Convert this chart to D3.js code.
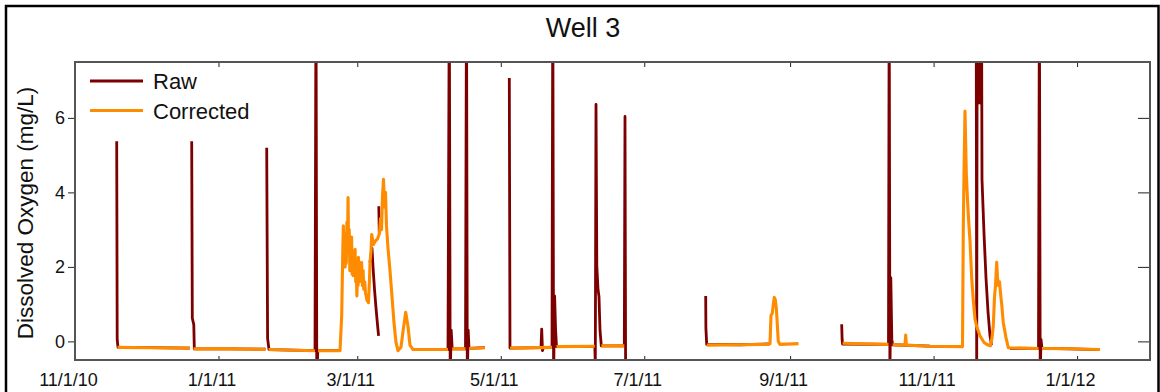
<!DOCTYPE html>
<html>
<head>
<meta charset="utf-8">
<script src="https://cdn.jsdelivr.net/npm/d3@7/dist/d3.min.js"></script>
<style>
  html, body { margin: 0; padding: 0; background: #fff; }
  svg { display: block; font-family: "Liberation Sans", Arial, sans-serif; }
</style>
</head>
<body>
<svg id="chart" width="1160" height="392"></svg>
<script>
// Well 3 dissolved oxygen record: raw logger output vs. corrected series.
// Each entry is [timestamp, mg/L]; a null value marks a gap in the record.
const rawSeries = [
  ["2010-11-18 17:30", 5.37], ["2010-11-18 22:30", 0.05], ["2010-11-19 06:40", -0.16],
  ["2010-12-02 21:00", -0.17], ["2010-12-19 21:20", -0.18], ["2010-12-20 03:00", null],
  ["2010-12-20 14:40", 5.37], ["2010-12-20 20:50", 0.62], ["2010-12-21 12:00", 0.45],
  ["2010-12-21 17:15", -0.2], ["2011-01-05 21:20", -0.2], ["2011-01-20 23:30", -0.21],
  ["2011-01-21 06:00", null],
  ["2011-01-21 12:00", 5.2], ["2011-01-21 21:00", 0.08], ["2011-01-22 11:20", -0.22],
  ["2011-02-11 00:40", -0.25], ["2011-02-11 10:50", 9.5], ["2011-02-11 19:00", -1.0],
  ["2011-02-12 05:15", -0.25], ["2011-02-21 15:50", -0.25], ["2011-03-01 00:00", null],
  ["2011-03-06 09:50", 2.12], ["2011-03-07 06:15", 2.5], ["2011-03-07 16:30", 2.0],
  ["2011-03-08 07:40", 1.4], ["2011-03-08 23:00", 0.9], ["2011-03-09 14:20", 0.45],
  ["2011-03-10 01:30", 0.15], ["2011-03-10 02:30", null],
  ["2011-03-10 03:40", 3.63], ["2011-03-10 08:40", 2.9], ["2011-03-12 00:00", null],
  ["2011-03-24 16:30", -0.22], ["2011-04-08 13:40", -0.22],
  ["2011-04-09 02:50", 9.5], ["2011-04-09 12:00", -1.0], ["2011-04-09 22:20", 0.3],
  ["2011-04-10 08:25", -0.2], ["2011-04-16 00:15", -0.2], ["2011-04-16 10:20", 9.5],
  ["2011-04-16 18:30", -1.0], ["2011-04-17 03:50", 0.3], ["2011-04-17 11:50", -0.19],
  ["2011-04-24 07:10", -0.17], ["2011-04-30 00:00", null],
  ["2011-05-04 15:10", 7.07], ["2011-05-04 22:00", -0.18], ["2011-05-18 02:25", -0.17],
  ["2011-05-18 09:35", 0.33], ["2011-05-18 17:50", -0.25], ["2011-05-19 02:00", -0.17],
  ["2011-05-22 18:45", -0.16], ["2011-05-23 02:50", 9.5], ["2011-05-23 11:00", -1.0],
  ["2011-05-23 21:20", 1.22], ["2011-05-24 07:30", 0.3], ["2011-05-24 16:35", -0.14],
  ["2011-06-09 23:30", -0.13], ["2011-06-10 04:35", -0.6], ["2011-06-10 11:45", 6.36],
  ["2011-06-10 19:55", 2.03], ["2011-06-11 08:10", 1.4], ["2011-06-11 18:15", 1.2],
  ["2011-06-12 04:30", 0.3], ["2011-06-12 17:45", -0.12], ["2011-06-22 12:30", -0.12],
  ["2011-06-22 19:30", 6.04], ["2011-06-23 01:40", -0.6], ["2011-07-10 00:00", null],
  ["2011-07-27 02:50", 1.22], ["2011-07-27 05:00", 0.35], ["2011-07-27 13:10", -0.08],
  ["2011-08-10 16:50", -0.09], ["2011-08-23 00:45", -0.07], ["2011-09-10 00:00", null],
  ["2011-09-22 22:20", 0.46], ["2011-09-23 02:40", 0.05], ["2011-09-23 07:40", -0.07],
  ["2011-10-12 19:55", -0.08], ["2011-10-13 03:05", 9.5], ["2011-10-13 10:20", -1.0],
  ["2011-10-13 19:30", 1.71], ["2011-10-14 05:45", 0.06], ["2011-10-14 14:00", -0.09],
  ["2011-10-30 11:20", -0.13], ["2011-11-13 07:00", -0.14], ["2011-11-16 00:00", null],
  ["2011-11-19 02:40", 9.5], ["2011-11-19 07:50", -1.0], ["2011-11-19 12:55", 9.5],
  ["2011-11-19 19:10", 6.4], ["2011-11-20 01:15", 9.5], ["2011-11-20 07:25", 6.4],
  ["2011-11-20 13:30", 9.5], ["2011-11-20 19:40", 6.4], ["2011-11-21 01:45", 9.5],
  ["2011-11-21 08:50", 9.5], ["2011-11-21 13:55", 4.35], ["2011-11-22 10:20", 2.9],
  ["2011-11-23 06:45", 1.7], ["2011-11-24 03:10", 0.8], ["2011-11-24 23:30", 0.15],
  ["2011-11-25 14:55", -0.1], ["2011-11-28 00:00", null],
  ["2011-12-03 11:30", -0.19], ["2011-12-15 14:25", -0.19], ["2011-12-15 23:30", 9.5],
  ["2011-12-16 07:40", -1.0], ["2011-12-16 15:50", 0.05], ["2011-12-17 02:10", -0.19],
  ["2011-12-29 00:00", -0.2], ["2012-01-10 17:45", -0.22]
];

const correctedSeries = [
  ["2010-11-19 01:40", -0.16], ["2010-12-02 21:00", -0.17], ["2010-12-19 21:20", -0.18],
  ["2010-12-20 12:00", null],
  ["2010-12-21 09:05", -0.2], ["2011-01-05 21:20", -0.2], ["2011-01-20 23:30", -0.21],
  ["2011-01-21 12:00", null],
  ["2011-01-22 06:15", -0.22], ["2011-02-11 00:40", -0.25], ["2011-02-11 12:00", null],
  ["2011-02-12 07:15", -0.25], ["2011-02-21 15:50", -0.25],
  ["2011-02-22 09:00", 0.69], ["2011-02-22 20:00", 2.4], ["2011-02-23 02:00", 3.1],
  ["2011-02-23 08:00", 2.2], ["2011-02-23 14:00", 2.9], ["2011-02-23 20:00", 2.0],
  ["2011-02-24 02:00", 2.7], ["2011-02-24 08:00", 2.1], ["2011-02-24 14:00", 3.2],
  ["2011-02-24 20:00", 2.6], ["2011-02-25 02:00", 3.86], ["2011-02-25 08:00", 2.4],
  ["2011-02-25 14:00", 3.0], ["2011-02-25 20:00", 1.9], ["2011-02-26 02:00", 2.6],
  ["2011-02-26 08:00", 2.0], ["2011-02-26 14:00", 2.8], ["2011-02-26 20:00", 1.8],
  ["2011-02-27 02:00", 2.4], ["2011-02-27 08:00", 1.76], ["2011-02-27 14:00", 2.2],
  ["2011-02-27 20:00", 1.9], ["2011-02-28 02:00", 2.47], ["2011-02-28 08:00", 1.6],
  ["2011-02-28 14:00", 1.9], ["2011-02-28 20:00", 1.22], ["2011-03-01 02:00", 1.8],
  ["2011-03-01 08:00", 1.5], ["2011-03-01 12:00", 2.26], ["2011-03-01 20:00", 1.6],
  ["2011-03-02 04:00", 1.67], ["2011-03-02 12:00", 2.0], ["2011-03-02 20:00", 2.12],
  ["2011-03-03 04:00", 1.5], ["2011-03-03 12:00", 1.9], ["2011-03-03 18:00", 1.4],
  ["2011-03-04 04:00", 1.6], ["2011-03-04 12:00", 1.3], ["2011-03-04 20:00", 1.2],
  ["2011-03-05 04:00", 1.09], ["2011-03-05 12:00", 1.1], ["2011-03-05 18:00", 1.04],
  ["2011-03-06 04:00", 1.6], ["2011-03-06 10:00", 2.12], ["2011-03-06 20:00", 2.4],
  ["2011-03-07 03:00", 2.87], ["2011-03-07 21:35", 2.6], ["2011-03-08 18:00", 2.7],
  ["2011-03-09 14:20", 2.75], ["2011-03-10 10:50", 2.9], ["2011-03-10 20:55", 3.3],
  ["2011-03-11 07:10", 3.0], ["2011-03-11 17:20", 3.9], ["2011-03-12 03:35", 4.35],
  ["2011-03-12 13:40", 3.6], ["2011-03-13 00:00", 4.0], ["2011-03-13 10:05", 3.1],
  ["2011-03-14 01:30", 2.5], ["2011-03-14 21:50", 1.9], ["2011-03-15 18:15", 1.2],
  ["2011-03-16 14:40", 0.5], ["2011-03-17 11:00", -0.03], ["2011-03-18 07:30", -0.25],
  ["2011-03-19 14:10", -0.15], ["2011-03-20 13:40", 0.33], ["2011-03-21 14:10", 0.78],
  ["2011-03-22 13:30", 0.4], ["2011-03-23 09:50", -0.1], ["2011-03-24 16:30", -0.22],
  ["2011-04-08 13:40", -0.22], ["2011-04-09 12:00", null],
  ["2011-04-10 08:25", -0.2], ["2011-04-16 00:15", -0.2], ["2011-04-16 18:00", null],
  ["2011-04-17 11:50", -0.19], ["2011-04-24 07:10", -0.17], ["2011-04-30 00:00", null],
  ["2011-05-04 22:00", -0.18], ["2011-05-22 18:45", -0.16], ["2011-05-23 12:00", null],
  ["2011-05-24 16:35", -0.14], ["2011-06-09 23:30", -0.13], ["2011-06-11 00:00", null],
  ["2011-06-12 17:45", -0.12], ["2011-06-22 12:30", -0.12], ["2011-07-10 00:00", null],
  ["2011-07-27 13:10", -0.1], ["2011-08-10 16:50", -0.09], ["2011-08-23 00:45", -0.08],
  ["2011-08-23 11:00", -0.06], ["2011-08-23 21:05", 0.7], ["2011-08-24 10:20", 0.75],
  ["2011-08-24 20:40", 1.0], ["2011-08-25 06:45", 1.18], ["2011-08-25 17:00", 1.12],
  ["2011-08-26 03:10", 0.9], ["2011-08-26 10:20", 0.6], ["2011-08-26 23:30", 0.0],
  ["2011-08-27 17:00", -0.08], ["2011-09-04 13:40", -0.06], ["2011-09-10 00:00", null],
  ["2011-09-23 07:40", -0.05], ["2011-10-12 19:55", -0.08], ["2011-10-13 12:00", null],
  ["2011-10-14 14:00", -0.09], ["2011-10-19 20:25", -0.1], ["2011-10-20 03:25", 0.17],
  ["2011-10-20 10:35", -0.1], ["2011-10-30 11:20", -0.13], ["2011-11-13 07:00", -0.14],
  ["2011-11-13 15:10", 3.1], ["2011-11-13 22:20", 4.5], ["2011-11-14 08:25", 6.18],
  ["2011-11-14 21:50", 4.5], ["2011-11-15 10:05", 3.8], ["2011-11-15 20:10", 3.3],
  ["2011-11-16 11:30", 2.7], ["2011-11-17 04:50", 1.7], ["2011-11-17 21:10", 1.1],
  ["2011-11-18 14:35", 0.6], ["2011-11-19 07:50", 0.4], ["2011-11-20 17:30", 0.15],
  ["2011-11-22 10:20", -0.03], ["2011-11-24 03:10", -0.1], ["2011-11-25 04:35", -0.12],
  ["2011-11-25 20:00", 0.1], ["2011-11-26 09:20", 0.42], ["2011-11-26 21:35", 1.2],
  ["2011-11-27 07:45", 1.5], ["2011-11-27 20:00", 2.12], ["2011-11-28 04:05", 1.7],
  ["2011-11-28 14:10", 1.5], ["2011-11-29 00:25", 1.6], ["2011-11-29 10:35", 1.3],
  ["2011-11-29 22:50", 1.0], ["2011-11-30 15:10", 0.5], ["2011-12-01 18:45", 0.1],
  ["2011-12-02 18:15", -0.17], ["2011-12-15 14:25", -0.19], ["2011-12-16 08:00", null],
  ["2011-12-17 02:10", -0.19], ["2011-12-29 00:00", -0.2], ["2012-01-10 17:45", -0.22]
];

const seriesNames = ["Raw", "Corrected"];
const seriesColors = ["#7c0000", "#ff8c00"];
const xDomain = ["2010-11-01 00:00", "2012-02-01 00:00"];
const xTicks = ["2010-11-01 00:00", "2011-01-01 00:00", "2011-03-01 00:00", "2011-05-01 00:00",
                "2011-07-01 00:00", "2011-09-01 00:00", "2011-11-01 00:00", "2012-01-01 00:00"];
const yDomain = [-0.5, 7.5];
const yTicks = [0, 2, 4, 6];
const chartTitle = "Well 3";
const yTitle = "Dissolved Oxygen (mg/L)";

const parse = d3.timeParse("%Y-%m-%d %H:%M");
const fmt = d3.timeFormat("%-m/%-d/%y");

const svg = d3.select("#chart");
const W = 1160, H = 392;
const plot = { left: 75, right: 1150, top: 62, bottom: 360 };

svg.append("rect").attr("width", W).attr("height", H).attr("fill", "#fff");
// outer border
svg.append("rect")
  .attr("x", 6).attr("y", 6).attr("width", 1152.5).attr("height", 420)
  .attr("fill", "none").attr("stroke", "#000").attr("stroke-width", 2.5);

const x = d3.scaleTime().domain(xDomain.map(parse)).range([plot.left, plot.right]);
const y = d3.scaleLinear().domain(yDomain).range([plot.bottom, plot.top]);

svg.append("defs").append("clipPath").attr("id", "plotClip")
  .append("rect")
  .attr("x", plot.left).attr("y", plot.top)
  .attr("width", plot.right - plot.left).attr("height", plot.bottom - plot.top);

const line = d3.line()
  .defined(d => d[1] !== null)
  .x(d => x(parse(d[0])))
  .y(d => y(d[1]));

const lines = svg.append("g").attr("clip-path", "url(#plotClip)");
lines.append("path").datum(rawSeries)
  .attr("d", line).attr("fill", "none")
  .attr("stroke", seriesColors[0]).attr("stroke-width", 2.8)
  .attr("stroke-linejoin", "round");
lines.append("path").datum(correctedSeries)
  .attr("d", line).attr("fill", "none")
  .attr("stroke", seriesColors[1]).attr("stroke-width", 3.1)
  .attr("stroke-linejoin", "round");

// axes
const tickDates = xTicks.map(parse);
const axisColor = "#222";

const gBottom = svg.append("g").attr("transform", `translate(0,${plot.bottom})`)
  .call(d3.axisBottom(x).tickValues(tickDates).tickFormat(fmt)
    .tickSizeInner(-4).tickSizeOuter(0).tickPadding(13));
gBottom.selectAll("text").attr("dx", -7).attr("font-size", 18)
  .attr("font-family", "'Liberation Sans', Arial, sans-serif").attr("fill", "#111");

const gTop = svg.append("g").attr("transform", `translate(0,${plot.top})`)
  .call(d3.axisTop(x).tickValues(tickDates).tickFormat("")
    .tickSizeInner(-5).tickSizeOuter(0));

const gLeft = svg.append("g").attr("transform", `translate(${plot.left},0)`)
  .call(d3.axisLeft(y).tickValues(yTicks).tickFormat(d3.format("d"))
    .tickSizeInner(7).tickSizeOuter(0).tickPadding(3));
gLeft.selectAll("text").attr("font-size", 18)
  .attr("font-family", "'Liberation Sans', Arial, sans-serif").attr("fill", "#111");

const gRight = svg.append("g").attr("transform", `translate(${plot.right},0)`)
  .call(d3.axisRight(y).tickValues(yTicks).tickFormat("")
    .tickSizeInner(-12).tickSizeOuter(0));

[gBottom, gTop, gLeft, gRight].forEach(g => {
  g.select(".domain").remove();
  g.selectAll(".tick line").attr("stroke", axisColor).attr("stroke-width", 1);
});

// plot frame
svg.append("rect")
  .attr("x", plot.left).attr("y", plot.top)
  .attr("width", plot.right - plot.left).attr("height", plot.bottom - plot.top)
  .attr("fill", "none").attr("stroke", "#555").attr("stroke-width", 2);

// title
svg.append("text")
  .attr("x", 583).attr("y", 37)
  .attr("text-anchor", "middle")
  .attr("font-size", 27).attr("fill", "#111")
  .text(chartTitle);

// y axis title
svg.append("text")
  .attr("transform", `translate(33,${(plot.top + plot.bottom) / 2 + 2}) rotate(-90)`)
  .attr("text-anchor", "middle")
  .attr("font-size", 22.5).attr("fill", "#111")
  .text(yTitle);

// legend
const legend = svg.append("g");
seriesNames.forEach((name, i) => {
  const ly = 81 + i * 29.5;
  legend.append("line")
    .attr("x1", 90).attr("x2", 143).attr("y1", ly).attr("y2", ly)
    .attr("stroke", seriesColors[i]).attr("stroke-width", 3);
  legend.append("text")
    .attr("x", 153).attr("y", ly + 8)
    .attr("font-size", 22).attr("fill", "#111")
    .text(name);
});
</script>
</body>
</html>
